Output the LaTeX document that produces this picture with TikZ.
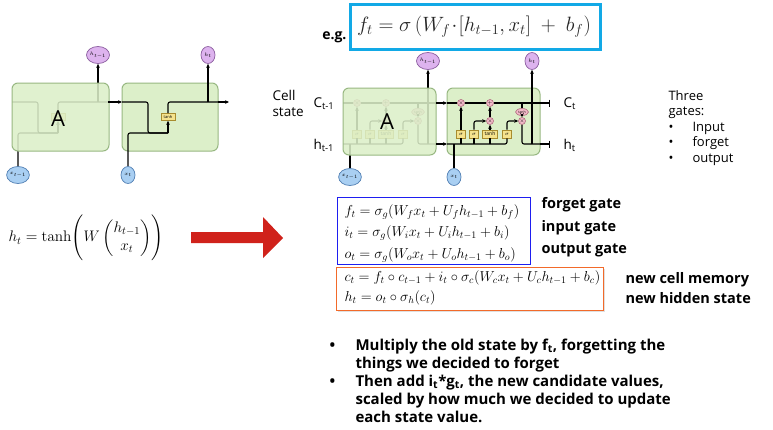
\documentclass[tikz,border=0pt]{standalone}
\usepackage{amsmath,amssymb}
\usepackage[no-math]{fontspec}
\setmainfont{Open Sans}
\usepackage{xcolor}
\usepackage{tikz}
\usetikzlibrary{shapes.geometric,arrows.meta}

\definecolor{cellgreen}{HTML}{DCEFC9}
\definecolor{cellline}{HTML}{98B882}
\definecolor{hpurple}{HTML}{DDB3EE}
\definecolor{hline}{HTML}{8A5C9E}
\definecolor{xblue}{HTML}{A9CFF2}
\definecolor{xline}{HTML}{4F7DB2}
\definecolor{gateyellow}{HTML}{F5E38D}
\definecolor{gateline}{HTML}{A88C2E}
\definecolor{oppink}{HTML}{F3BBC9}
\definecolor{opline}{HTML}{B06A7E}
\definecolor{egblue}{HTML}{12A9E6}
\definecolor{eqblue}{HTML}{1E1EF0}
\definecolor{eqorange}{HTML}{F26A2A}
\definecolor{bigred}{HTML}{D0221B}

\begin{document}
\begin{tikzpicture}[x=1pt,y=-1pt,>={Stealth[length=4pt,width=3.6pt]},line width=1.1pt,
  cellbox/.style={rounded corners=6pt,fill=cellgreen,draw=cellline,line width=1pt},
  hcirc/.style={ellipse,fill=hpurple,draw=hline,line width=0.7pt,minimum width=14pt,minimum height=17pt,inner sep=0pt,font=\fontsize{5}{5}\selectfont},
  xcirc/.style={ellipse,fill=xblue,draw=xline,line width=0.7pt,minimum width=14pt,minimum height=17pt,inner sep=0pt,font=\fontsize{5}{5}\selectfont},
  gatebox/.style={rectangle,fill=gateyellow,draw=gateline,line width=0.6pt,minimum width=9pt,minimum height=8pt,inner sep=0.5pt,font=\fontsize{5}{5}\selectfont},
  opcirc/.style={circle,fill=oppink,draw=opline,line width=0.6pt,minimum size=7pt,inner sep=0pt,font=\fontsize{5}{5}\selectfont},
  tanhop/.style={ellipse,fill=oppink,draw=opline,line width=0.6pt,minimum width=13pt,minimum height=7pt,inner sep=0pt,font=\fontsize{3.5}{4}\selectfont},
  lbl/.style={anchor=west,inner sep=0pt,font=\fontsize{13.5}{16}\selectfont},
  gatelbl/.style={anchor=west,inner sep=0pt,font=\bfseries\fontsize{14.5}{17}\selectfont},
  eq/.style={anchor=west,inner sep=0pt,font=\fontsize{14.4}{16}\selectfont}]
  \fill[white] (0,0) rectangle (773,429);
  \useasboundingbox (0,0) rectangle (773,429);

  % simple RNN, left
  \draw[cellbox] (122,83) rectangle (218,151);
  \foreach \pre/\dx/\idx in {c/-110/t-1, d/0/t} {
    \begin{scope}[xshift=\dx]
      \coordinate (\pre-in) at (122,102);
      \coordinate (\pre-out) at (218,102);
      \coordinate (\pre-j) at (168,133);
      \coordinate (\pre-hb) at (208,102);
      \node[gatebox,minimum width=14pt,minimum height=7pt,font=\fontsize{4}{4}\selectfont] (\pre-tanh) at (168,117) {tanh};
      \node[hcirc] (\pre-h) at (208,55) {$h_{\idx}$};
      \node[xcirc] (\pre-x) at (128,175) {$x_{\idx}$};
      \draw[rounded corners=2pt] (\pre-in) -| (148,133) -- (\pre-j);
      \draw[rounded corners=2pt] (\pre-x) |- (\pre-j);
      \draw[->] (\pre-j) -- (\pre-tanh);
      \draw[rounded corners=2pt] (\pre-tanh) |- (\pre-out);
      \draw[->] (\pre-hb) -- (\pre-h);
    \end{scope}
  }
  \draw[cellbox,fill opacity=0.87] (12,83) rectangle (109,151);
  \node[font=\fontsize{22}{22}\selectfont] (rnnA) at (58,119) {A};
  \coordinate (rnnend) at (229,102);
  \draw[->] (c-out) -- (d-in);
  \draw[->] (d-out) -- (rnnend);

  \node[font=\fontsize{14.4}{17}\selectfont,scale=1.06,transform shape] (rnneq) at (86,238)
    {$h_t=\tanh\Biggl(W\begin{pmatrix}h_{t-1}\\ x_t\end{pmatrix}\Biggr)$};
  \fill[bigred] (191,232) -- (263,232) -- (263,217) -- (283,238) -- (263,258) -- (263,243) -- (191,243) -- cycle;

  % LSTM, right
  \node[anchor=east,inner sep=0pt,font=\bfseries\fontsize{14}{16}\selectfont] (eg) at (347,37) {e.g.};
  \draw[egblue,line width=3pt] (350,4) rectangle (600,49);
  \node[inner sep=0pt,text=black!85,font=\fontsize{17.28}{20}\selectfont,scale=1.2,transform shape] (egf) at (474,27)
    {$f_t=\sigma\left(W_f\!\cdot\![h_{t-1},x_t]\ +\ b_f\right)$};

  \draw[cellbox] (447,88) rectangle (540,155);
  \foreach \pre/\dx/\idx in {a/-104/t-1, b/0/t} {
    \begin{scope}[xshift=\dx]
      \coordinate (\pre-cin) at (447,103);
      \coordinate (\pre-cout) at (540,103);
      \coordinate (\pre-hin) at (447,144);
      \coordinate (\pre-hout) at (540,144);
      \coordinate (\pre-hv) at (532,144);
      \node[opcirc] (\pre-mf) at (461,103) {$\times$};
      \node[opcirc] (\pre-ad) at (490,103) {$+$};
      \node[opcirc] (\pre-mi) at (490,121) {$\times$};
      \node[opcirc] (\pre-mo) at (522,121) {$\times$};
      \node[tanhop] (\pre-tc) at (522,112) {tanh};
      \node[gatebox] (\pre-sf) at (461,134) {$\sigma$};
      \node[gatebox] (\pre-si) at (474,134) {$\sigma$};
      \node[gatebox,minimum width=15pt] (\pre-tg) at (490,134) {tanh};
      \node[gatebox] (\pre-so) at (507,134) {$\sigma$};
      \node[hcirc] (\pre-h) at (532,61) {$h_{\idx}$};
      \node[xcirc] (\pre-x) at (454,177) {$x_{\idx}$};
      % cell state line
      \draw (\pre-cin) -- (\pre-mf);
      \draw (\pre-mf) -- (\pre-ad);
      \draw (\pre-ad) -- (\pre-cout);
      \draw (\pre-tc) -- (\pre-tc |- \pre-cin);
      \draw[->] (\pre-tc) -- (\pre-mo);
      % inputs to the gates
      \draw[rounded corners=2pt] (\pre-hin) -| (\pre-so);
      \draw (\pre-sf) -- (\pre-sf |- \pre-hin);
      \draw (\pre-si) -- (\pre-si |- \pre-hin);
      \draw (\pre-tg) -- (\pre-tg |- \pre-hin);
      \draw (\pre-x) -- (\pre-x |- \pre-hin);
      % gate outputs
      \draw[->] (\pre-sf) -- (\pre-mf);
      \draw[->,rounded corners=2pt] (\pre-si) |- (\pre-mi);
      \draw[->] (\pre-tg) -- (\pre-mi);
      \draw[->] (\pre-mi) -- (\pre-ad);
      \draw[->,rounded corners=2pt] (\pre-so) |- (\pre-mo);
      \draw[rounded corners=2pt] (\pre-mo) |- (\pre-hout);
      \draw[->] (\pre-hv) -- (\pre-h);
    \end{scope}
  }
  \draw[cellbox,fill opacity=0.87] (343,88) rectangle (436,155);
  \node[font=\fontsize{22}{22}\selectfont] (lstmA) at (387,122) {A};
  \coordinate (cend) at (550,103);
  \coordinate (hend) at (550,144);
  \draw[->] (a-cout) -- (b-cin);
  \draw[->] (a-hout) -- (b-hin);
  \draw[-{Bar[width=7pt]}] (b-cout) -- (cend);
  \draw[-{Bar[width=7pt]}] (b-hout) -- (hend);

  \node[lbl,align=left] (cellst) at (272,103) {Cell\\state};
  \node[lbl] (cprev) at (313,104) {C\textsubscript{t-1}};
  \node[lbl] (hprev) at (313,145) {h\textsubscript{t-1}};
  \node[lbl] (cnext) at (563,104) {C\textsubscript{t}};
  \node[lbl] (hnext) at (563,145) {h\textsubscript{t}};
  \node[anchor=north west,align=left,inner sep=0pt,font=\fontsize{13}{15.5}\selectfont] (three) at (668,90)
    {Three\\gates:\\\makebox[24pt][l]{•}Input\\\makebox[24pt][l]{•}forget\\\makebox[24pt][l]{•}output};

  % equations
  \fill[black!12] (338,269) rectangle (605,312);
  \fill[white] (336,267) rectangle (603,310);
  \draw[eqblue,line width=1pt] (337,197) rectangle (530,264);
  \draw[eqorange,line width=1pt] (336,267) rectangle (603,310);
  \node[eq] (eqf) at (344,212) {$f_t=\sigma_g(W_f x_t+U_f h_{t-1}+b_f)$};
  \node[eq] (eqi) at (344,233) {$i_t=\sigma_g(W_i x_t+U_i h_{t-1}+b_i)$};
  \node[eq] (eqo) at (344,255) {$o_t=\sigma_g(W_o x_t+U_o h_{t-1}+b_o)$};
  \node[eq] (eqc) at (344,278) {$c_t=f_t\circ c_{t-1}+i_t\circ\sigma_c(W_c x_t+U_c h_{t-1}+b_c)$};
  \node[eq] (eqh) at (344,298) {$h_t=o_t\circ\sigma_h(c_t)$};
  \node[gatelbl] (lforget) at (541,205) {forget gate};
  \node[gatelbl] (linput) at (541,228) {input gate};
  \node[gatelbl] (loutput) at (541,250) {output gate};
  \node[gatelbl] (lcell) at (625,280) {new cell memory};
  \node[gatelbl] (lhidden) at (625,298) {new hidden state};

  \node[anchor=north west,align=left,inner sep=0pt,font=\bfseries\fontsize{15}{18}\selectfont] (notes) at (329,338)
    {\makebox[26pt][l]{•}Multiply the old state by f\textsubscript{t}, forgetting the\\
     \hspace*{26pt}things we decided to forget\\
     \makebox[26pt][l]{•}Then add i\textsubscript{t}*g\textsubscript{t}, the new candidate values,\\
     \hspace*{26pt}scaled by how much we decided to update\\
     \hspace*{26pt}each state value.};
\end{tikzpicture}
\end{document}
